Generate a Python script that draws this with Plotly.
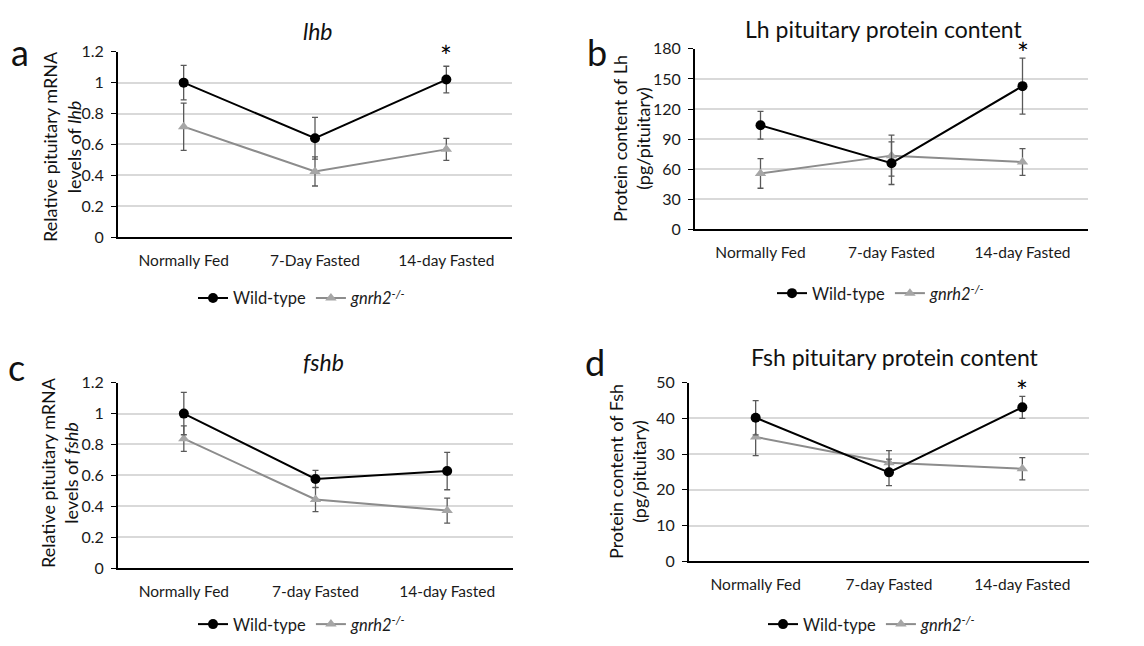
import plotly.graph_objects as go

# ---------------- data ----------------
cats_a = ["Normally Fed", "7-Day Fasted", "14-day Fasted"]
cats_bcd = ["Normally Fed", "7-day Fasted", "14-day Fasted"]

lhb_wt = [1.00, 0.64, 1.02]
lhb_wt_err = [0.112, 0.135, 0.086]
lhb_ko = [0.715, 0.425, 0.568]
lhb_ko_err = [0.153, 0.094, 0.071]

lh_wt = [103.8, 66.0, 142.8]
lh_wt_err = [13.8, 21.3, 28.0]
lh_ko = [55.8, 73.5, 67.2]
lh_ko_err = [14.8, 20.5, 13.3]

fshb_wt = [1.00, 0.577, 0.628]
fshb_wt_err = [0.137, 0.056, 0.121]
fshb_ko = [0.838, 0.444, 0.372]
fshb_ko_err = [0.083, 0.078, 0.081]

fsh_wt = [40.2, 24.9, 43.1]
fsh_wt_err = [4.8, 3.7, 3.1]
fsh_ko = [34.8, 27.6, 25.9]
fsh_ko_err = [5.2, 3.4, 3.1]

star_pos = {"a": 1.17, "b": 176, "d": 47.8}

W, H = 1144, 646
FONT = "Lato"
WT_COLOR = "#000000"
KO_COLOR = "#8c8c8c"
KO_MARK = "#a6a6a6"
ERR_COLOR = "#595959"
GRID = "#d9d9d9"
TXT = "#1a1a1a"

def px_x(p):
    return p / W

def px_y(p):
    return 1 - p / H

panels = [
    dict(k="a", cats=cats_a, wt=lhb_wt, wte=lhb_wt_err, ko=lhb_ko, koe=lhb_ko_err,
         yr=[0, 1.2], dt=0.2, xd=(118, 512), yd=(43, 234), leg=(302, 297)),
    dict(k="b", cats=cats_bcd, wt=lh_wt, wte=lh_wt_err, ko=lh_ko, koe=lh_ko_err,
         yr=[0, 180], dt=30, xd=(695, 1088), yd=(40, 226), leg=(881, 292)),
    dict(k="c", cats=cats_bcd, wt=fshb_wt, wte=fshb_wt_err, ko=fshb_ko, koe=fshb_ko_err,
         yr=[0, 1.2], dt=0.2, xd=(118, 513), yd=(384, 575), leg=(302, 633)),
    dict(k="d", cats=cats_bcd, wt=fsh_wt, wte=fsh_wt_err, ko=fsh_ko, koe=fsh_ko_err,
         yr=[0, 50], dt=10, xd=(689, 1089), yd=(384, 568), leg=(872, 633)),
]

fig = go.Figure()
layout = {}
annotations = []

for i, p in enumerate(panels, start=1):
    sfx = "" if i == 1 else str(i)
    xa, ya = "x" + sfx, "y" + sfx
    lg = "legend" + sfx
    fig.add_trace(go.Scatter(
        x=p["cats"], y=p["ko"], name="<i>gnrh2</i><sup><i>-/-</i></sup>",
        mode="lines+markers", xaxis=xa, yaxis=ya, legend=lg,
        line=dict(color=KO_COLOR, width=2),
        marker=dict(symbol="triangle-up", size=10, color=KO_MARK),
        error_y=dict(type="data", array=p["koe"], color=ERR_COLOR, thickness=1.3, width=3),
    ))
    fig.add_trace(go.Scatter(
        x=p["cats"], y=p["wt"], name="Wild-type",
        mode="lines+markers", xaxis=xa, yaxis=ya, legend=lg,
        line=dict(color=WT_COLOR, width=2),
        marker=dict(symbol="circle", size=10, color=WT_COLOR),
        error_y=dict(type="data", array=p["wte"], color=ERR_COLOR, thickness=1.3, width=3),
    ))
    layout["xaxis" + sfx] = dict(
        domain=[px_x(p["xd"][0]), px_x(p["xd"][1])], anchor=ya,
        type="category", range=[-0.5, 2.5], showline=True, linecolor="black", linewidth=2,
        ticks="outside", ticklen=8, tickcolor="rgba(0,0,0,0)", showgrid=False,
        tickfont=dict(family=FONT, size=15.5, color=TXT), fixedrange=True,
    )
    layout["yaxis" + sfx] = dict(
        domain=[px_y(p["yd"][1]), px_y(p["yd"][0])], anchor=xa,
        range=p["yr"], dtick=p["dt"], showline=True, linecolor="black", linewidth=2,
        ticks="outside", ticklen=5, tickcolor="black", tickwidth=1,
        showgrid=True, gridcolor=GRID, gridwidth=1.5, zeroline=False,
        tickfont=dict(family=FONT, size=16, color=TXT), ticklabelstandoff=4,
        fixedrange=True,
    )
    layout[lg] = dict(
        orientation="h", x=px_x(p["leg"][0]), y=px_y(p["leg"][1]),
        xanchor="center", yanchor="middle", traceorder="reversed",
        font=dict(family=FONT, size=16.5, color=TXT), bgcolor="rgba(0,0,0,0)",
        itemwidth=30, tracegroupgap=0,
    )
    if p["k"] in star_pos:
        annotations.append(dict(
            x=2, y=star_pos[p["k"]], xref=xa, yref=ya, text="*", showarrow=False,
            font=dict(family=FONT, size=28, color="black"), yanchor="middle",
        ))

texts = [
    ("<i>lhb</i>", 318, 22, 23, 0),
    ("Lh pituitary protein content", 883, 20, 23, 0),
    ("<i>fshb</i>", 323, 363, 23, 0),
    ("Fsh pituitary protein content", 895, 358, 23, 0),
    ("a", 20, 43, 36, 0),
    ("b", 597, 43, 36, 0),
    ("c", 16, 368, 36, 0),
    ("d", 595, 363, 36, 0),
    ("Relative pituitary mRNA<br>levels of <i>lhb</i>", 62, 140, 18, -90),
    ("Protein content of Lh<br>(pg/pituitary)", 631, 133, 18, -90),
    ("Relative pituitary mRNA<br>levels of <i>fshb</i>", 60, 477, 18, -90),
    ("Protein content of Fsh<br>(pg/pituitary)", 627, 476, 18, -90),
]
for t, x, y, s, ang in texts:
    annotations.append(dict(
        x=px_x(x), y=px_y(y), xref="paper", yref="paper", text=t, showarrow=False,
        textangle=ang, xanchor="center", yanchor="middle",
        font=dict(family=FONT, size=s, color="#111111"),
    ))

fig.update_layout(
    width=W, height=H, margin=dict(l=0, r=0, t=0, b=0),
    paper_bgcolor="white", plot_bgcolor="white",
    annotations=annotations, **layout,
)

fig.write_html("out.html")
